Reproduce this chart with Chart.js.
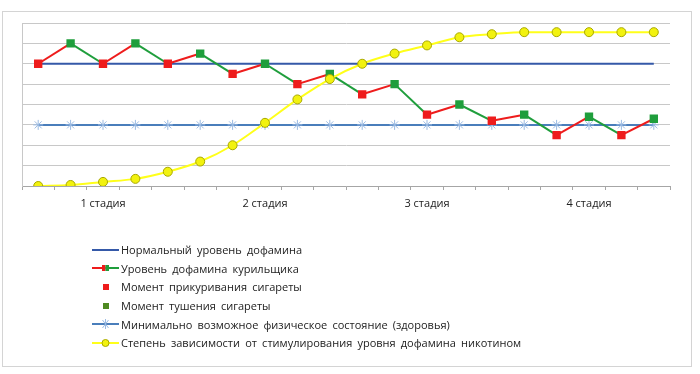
<!DOCTYPE html>
<html>
<head>
<meta charset="utf-8">
<script src="https://cdn.jsdelivr.net/npm/chart.js@4/dist/chart.umd.min.js"></script>
<style>
  body { margin: 0; background: #fff; }
  #wrap { position: relative; width: 700px; height: 374px; }
  #frame { position: absolute; left: 2px; top: 11px; width: 688px; height: 354px; border: 1px solid #d4d4d4; }
  #chart { position: absolute; left: 0; top: 0; }
  #legend { position: absolute; left: 92px; top: 240.5px; font-family: "Open Sans", sans-serif; font-size: 11px; color: #222; }
  .item { height: 18.6px; display: flex; align-items: center; white-space: nowrap; word-spacing: 2.3px; }
  .item svg { width: 27px; height: 10px; margin-right: 2px; flex: none; }
</style>
</head>
<body>
<div id="wrap">
  <div id="frame"></div>
  <canvas id="chart" width="700" height="374"></canvas>
  <div id="legend"></div>
</div>
<script>
// Categories: 20 moments, stage labels centred under each group of five
const categories = ['', '', '1 стадия', '', '', '', '', '2 стадия', '', '', '', '', '3 стадия', '', '', '', '', '4 стадия', '', ''];

// Series values (y axis 0..8, no tick labels)
const normalLevel = [6, 6, 6, 6, 6, 6, 6, 6, 6, 6, 6, 6, 6, 6, 6, 6, 6, 6, 6, 6];
const smokerLevel = [6, 7, 6, 7, 6, 6.5, 5.5, 6, 5, 5.5, 4.5, 5, 3.5, 4, 3.2, 3.5, 2.5, 3.4, 2.5, 3.3];
const minHealth = [3, 3, 3, 3, 3, 3, 3, 3, 3, 3, 3, 3, 3, 3, 3, 3, 3, 3, 3, 3];
const dependence = [0, 0.05, 0.2, 0.35, 0.7, 1.2, 2.0, 3.1, 4.25, 5.25, 6.0, 6.5, 6.9, 7.3, 7.45, 7.55, 7.55, 7.55, 7.55, 7.55];

const legendLabels = [
    'Нормальный уровень дофамина',
    'Уровень дофамина курильщика',
    'Момент прикуривания сигареты',
    'Момент тушения сигареты',
    'Минимально возможное физическое состояние (здоровья)',
    'Степень зависимости от стимулирования уровня дофамина никотином'
];

const RED = '#ee1c1c';
const GREEN = '#1f9e3c';
const DARK_BLUE = '#3559a8';
const BLUE = '#4a7ebb';
const YELLOW = '#ffff1a';

const ctx = document.getElementById('chart').getContext('2d');
new Chart(ctx, {
    type: 'line',
    data: {
        labels: categories,
        datasets: [
            { label: legendLabels[0], data: normalLevel, borderColor: DARK_BLUE, borderWidth: 2, pointRadius: 0, order: 3 },
            {
                label: legendLabels[1], data: smokerLevel, borderWidth: 2, borderColor: RED,
                pointStyle: 'rect', pointRadius: 4.5,
                pointBackgroundColor: smokerLevel.map((v, i) => i % 2 === 0 ? RED : GREEN),
                pointBorderColor: smokerLevel.map((v, i) => i % 2 === 0 ? RED : GREEN),
                segment: { borderColor: c => c.p0DataIndex % 2 === 0 ? RED : GREEN },
                order: 2
            },
            {
                label: legendLabels[4], data: minHealth, borderColor: BLUE, borderWidth: 2,
                pointStyle: 'star', pointRadius: 5, pointBorderColor: '#9bbbe3', pointBorderWidth: 1, order: 4
            },
            {
                label: legendLabels[5], data: dependence, borderColor: YELLOW, borderWidth: 2,
                cubicInterpolationMode: 'monotone',
                pointStyle: 'circle', pointRadius: 4.5, pointBackgroundColor: '#f2f20f', pointBorderColor: '#a8a800', pointBorderWidth: 1,
                order: 1
            }
        ]
    },
    options: {
        responsive: false,
        animation: false,
        layout: { padding: { left: 22, right: 30, top: 23, bottom: 158 } },
        plugins: { legend: { display: false }, tooltip: { enabled: false } },
        scales: {
            x: {
                offset: true,
                grid: { offset: true, drawOnChartArea: false, tickLength: 4, color: '#a6a6a6' },
                border: { color: '#a6a6a6' },
                ticks: { autoSkip: false, maxRotation: 0, padding: 7, color: '#222', font: { family: 'Open Sans', size: 11 } },
                afterFit: s => { s.height = 30; }
            },
            y: {
                min: 0, max: 8,
                ticks: { display: false, stepSize: 1 },
                grid: { drawTicks: false, color: '#c8c8c8' },
                border: { color: '#c8c8c8' },
                afterFit: s => { s.width = 0; }
            }
        }
    }
});

// Legend drawn as HTML list with small svg symbols
const legendIcons = [
    `<line x1="0" y1="5" x2="27" y2="5" stroke="${DARK_BLUE}" stroke-width="2"/>`,
    `<line x1="0" y1="5" x2="13.5" y2="5" stroke="${RED}" stroke-width="2"/><line x1="13.5" y1="5" x2="27" y2="5" stroke="${GREEN}" stroke-width="2"/><rect x="10" y="2" width="3.5" height="6" fill="${RED}"/><rect x="13.5" y="2" width="3.5" height="6" fill="${GREEN}"/>`,
    `<rect x="11" y="2" width="6" height="6" fill="${RED}"/>`,
    `<rect x="11" y="2" width="6" height="6" fill="#4e8a22"/>`,
    `<line x1="0" y1="5" x2="27" y2="5" stroke="${BLUE}" stroke-width="2"/><path d="M10.5 1 L16.5 9 M16.5 1 L10.5 9 M13.5 0 L13.5 10" stroke="#9bbbe3" stroke-width="1"/>`,
    `<line x1="0" y1="5" x2="27" y2="5" stroke="${YELLOW}" stroke-width="2"/><circle cx="13.5" cy="5" r="3.5" fill="#f2f20f" stroke="#a8a800" stroke-width="1"/>`
];
const legendDiv = document.getElementById('legend');
legendLabels.forEach((text, i) => {
    const row = document.createElement('div');
    row.className = 'item';
    row.innerHTML = `<svg viewBox="0 0 27 10">${legendIcons[i]}</svg><span>${text}</span>`;
    legendDiv.appendChild(row);
});
</script>
</body>
</html>
